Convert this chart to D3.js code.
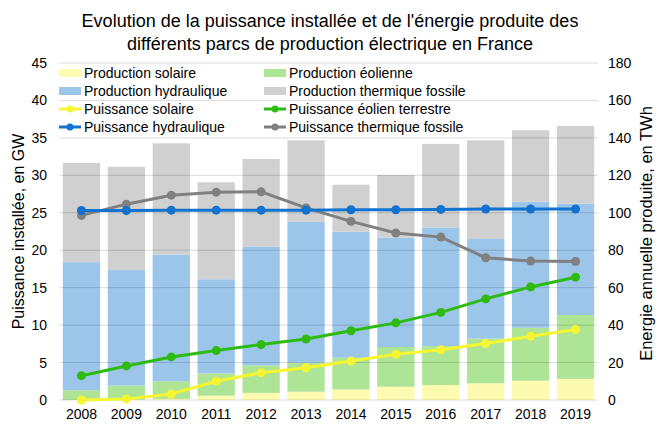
<!DOCTYPE html>
<html>
<head>
<meta charset="utf-8">
<script src="https://cdn.jsdelivr.net/npm/d3@7"></script>
<style>
  body { margin: 0; background: #fff; }
  svg { font-family: "Liberation Sans", Arial, sans-serif; }
</style>
</head>
<body>
<div id="chart"></div>
<script>
const years = [2008, 2009, 2010, 2011, 2012, 2013, 2014, 2015, 2016, 2017, 2018, 2019];

// production (TWh) - right axis
const prodSolaire = [0.04, 0.2, 0.6, 2.3, 3.8, 4.4, 5.6, 7.1, 8.0, 8.9, 10.3, 11.3];
const prodEolienne = [5.2, 7.5, 9.4, 11.9, 14.7, 15.5, 17.0, 21.2, 20.8, 23.9, 28.3, 34.1];
const prodHydraulique = [68.4, 61.7, 67.6, 50.3, 63.4, 75.2, 67.3, 58.4, 63.4, 53.2, 67.3, 59.5];
const prodThermique = [53.0, 55.2, 59.5, 51.8, 46.8, 43.6, 25.1, 33.5, 44.6, 52.7, 38.2, 41.5];

// installed power (GW) - left axis
const puisSolaire = [0.0, 0.15, 0.8, 2.5, 3.65, 4.3, 5.2, 6.1, 6.7, 7.55, 8.5, 9.4];
const puisEolien = [3.25, 4.55, 5.75, 6.6, 7.4, 8.15, 9.25, 10.3, 11.7, 13.5, 15.1, 16.4];
const puisHydraulique = [25.3, 25.3, 25.35, 25.35, 25.35, 25.35, 25.4, 25.4, 25.45, 25.5, 25.5, 25.5];
const puisThermique = [24.65, 26.15, 27.35, 27.75, 27.8, 25.65, 23.85, 22.3, 21.75, 19.0, 18.55, 18.5];

const leftTicks = [0, 5, 10, 15, 20, 25, 30, 35, 40, 45];
const rightTicks = [0, 20, 40, 60, 80, 100, 120, 140, 160, 180];

const W = 661, H = 430;
const margin = {top: 63, right: 63, bottom: 30, left: 59};
const width = W - margin.left - margin.right;
const height = H - margin.top - margin.bottom;

const svg = d3.select('#chart').append('svg')
    .attr('width', W)
    .attr('height', H);

// title
svg.append('text')
    .attr('x', 330).attr('y', 27)
    .attr('text-anchor', 'middle')
    .attr('font-size', 18).attr('fill', '#000')
    .text("Evolution de la puissance installée et de l'énergie produite des");
svg.append('text')
    .attr('x', 330).attr('y', 50)
    .attr('text-anchor', 'middle')
    .attr('font-size', 18).attr('fill', '#000')
    .text("différents parcs de production électrique en France");

const g = svg.append('g')
    .attr('transform', `translate(${margin.left},${margin.top})`);

const x = d3.scaleBand()
    .domain(years)
    .range([0, width])
    .paddingInner(0.17)
    .paddingOuter(0.085);

const yL = d3.scaleLinear().domain([0, 45]).range([height, 0]);
const yR = d3.scaleLinear().domain([0, 180]).range([height, 0]);

// stacked bars
const keys = ['solaire', 'eolienne', 'hydraulique', 'thermique'];
const barColors = {solaire: '#fdfbb0', eolienne: '#ade495', hydraulique: '#9cc5ea', thermique: '#d0d0d0'};
const table = years.map((y, i) => ({
    year: y,
    solaire: prodSolaire[i],
    eolienne: prodEolienne[i],
    hydraulique: prodHydraulique[i],
    thermique: prodThermique[i]
}));
const stacked = d3.stack().keys(keys)(table);

g.append('g')
    .selectAll('g')
    .data(stacked)
    .enter().append('g')
    .attr('fill', d => barColors[d.key])
    .selectAll('rect')
    .data(d => d)
    .enter().append('rect')
    .attr('x', d => x(d.data.year))
    .attr('width', x.bandwidth())
    .attr('y', d => yR(d[1]))
    .attr('height', d => yR(d[0]) - yR(d[1]));

// gridlines (drawn over bars, semi transparent)
g.append('g')
    .selectAll('line')
    .data(leftTicks)
    .enter().append('line')
    .attr('x1', 0).attr('x2', width)
    .attr('y1', d => yL(d)).attr('y2', d => yL(d))
    .attr('stroke', 'rgba(0,0,0,0.14)')
    .attr('stroke-width', 1);

// axes
const axisL = g.append('g')
    .call(d3.axisLeft(yL).tickValues(leftTicks).tickSize(0).tickPadding(12));
const axisR = g.append('g')
    .attr('transform', `translate(${width},0)`)
    .call(d3.axisRight(yR).tickValues(rightTicks).tickSize(0).tickPadding(10));
const axisB = g.append('g')
    .attr('transform', `translate(0,${height})`)
    .call(d3.axisBottom(x).tickSize(0).tickPadding(9));
[axisL, axisR, axisB].forEach(a => {
    a.select('.domain').remove();
    a.selectAll('text').attr('font-size', 14).attr('fill', '#000')
        .attr('font-family', '"Liberation Sans", Arial, sans-serif');
});

// axis titles
svg.append('text')
    .attr('transform', `translate(24,${margin.top + height / 2}) rotate(-90)`)
    .attr('text-anchor', 'middle')
    .attr('font-size', 16).attr('fill', '#000')
    .text('Puissance installée, en GW');
svg.append('text')
    .attr('transform', `translate(652,${margin.top + height / 2 + 2}) rotate(-90)`)
    .attr('text-anchor', 'middle')
    .attr('font-size', 16.5).attr('fill', '#000')
    .text('Energie annuelle produite, en TWh');

// lines
const lineSeries = [
    {key: 'Puissance solaire', values: puisSolaire, color: '#f5f531'},
    {key: 'Puissance éolien terrestre', values: puisEolien, color: '#2dbb12'},
    {key: 'Puissance hydraulique', values: puisHydraulique, color: '#1272cf'},
    {key: 'Puissance thermique fossile', values: puisThermique, color: '#808080'}
];
const line = d3.line()
    .x((d, i) => x(years[i]) + x.bandwidth() / 2)
    .y(d => yL(d));

const drawOrder = [3, 2, 1, 0];
drawOrder.forEach(k => {
    const s = lineSeries[k];
    const lg = g.append('g');
    lg.append('path')
        .datum(s.values)
        .attr('fill', 'none')
        .attr('stroke', s.color)
        .attr('stroke-width', 3)
        .attr('d', line);
    lg.selectAll('circle')
        .data(s.values)
        .enter().append('circle')
        .attr('cx', (d, i) => x(years[i]) + x.bandwidth() / 2)
        .attr('cy', d => yL(d))
        .attr('r', 4.5)
        .attr('fill', s.color);
});

// legend
const legendItems = [
    {label: 'Production solaire', type: 'bar', color: barColors.solaire},
    {label: 'Production éolienne', type: 'bar', color: barColors.eolienne},
    {label: 'Production hydraulique', type: 'bar', color: barColors.hydraulique},
    {label: 'Production thermique fossile', type: 'bar', color: barColors.thermique},
    {label: 'Puissance solaire', type: 'line', color: lineSeries[0].color},
    {label: 'Puissance éolien terrestre', type: 'line', color: lineSeries[1].color},
    {label: 'Puissance hydraulique', type: 'line', color: lineSeries[2].color},
    {label: 'Puissance thermique fossile', type: 'line', color: lineSeries[3].color}
];
const legend = svg.append('g')
    .selectAll('g')
    .data(legendItems)
    .enter().append('g')
    .attr('transform', (d, i) => `translate(${i % 2 === 0 ? 59 : 264},${73 + Math.floor(i / 2) * 18})`);

legend.filter(d => d.type === 'bar').append('rect')
    .attr('x', 0).attr('y', -4)
    .attr('width', 22).attr('height', 8)
    .attr('fill', d => d.color);
legend.filter(d => d.type === 'line').append('line')
    .attr('x1', 0).attr('x2', 22).attr('y1', 0).attr('y2', 0)
    .attr('stroke', d => d.color).attr('stroke-width', 3);
legend.filter(d => d.type === 'line').append('circle')
    .attr('cx', 11).attr('cy', 0).attr('r', 3.5)
    .attr('fill', d => d.color);
legend.append('text')
    .attr('x', 25).attr('y', 0)
    .attr('dy', '0.35em')
    .attr('font-size', 14).attr('fill', '#000')
    .text(d => d.label);
</script>
</body>
</html>
